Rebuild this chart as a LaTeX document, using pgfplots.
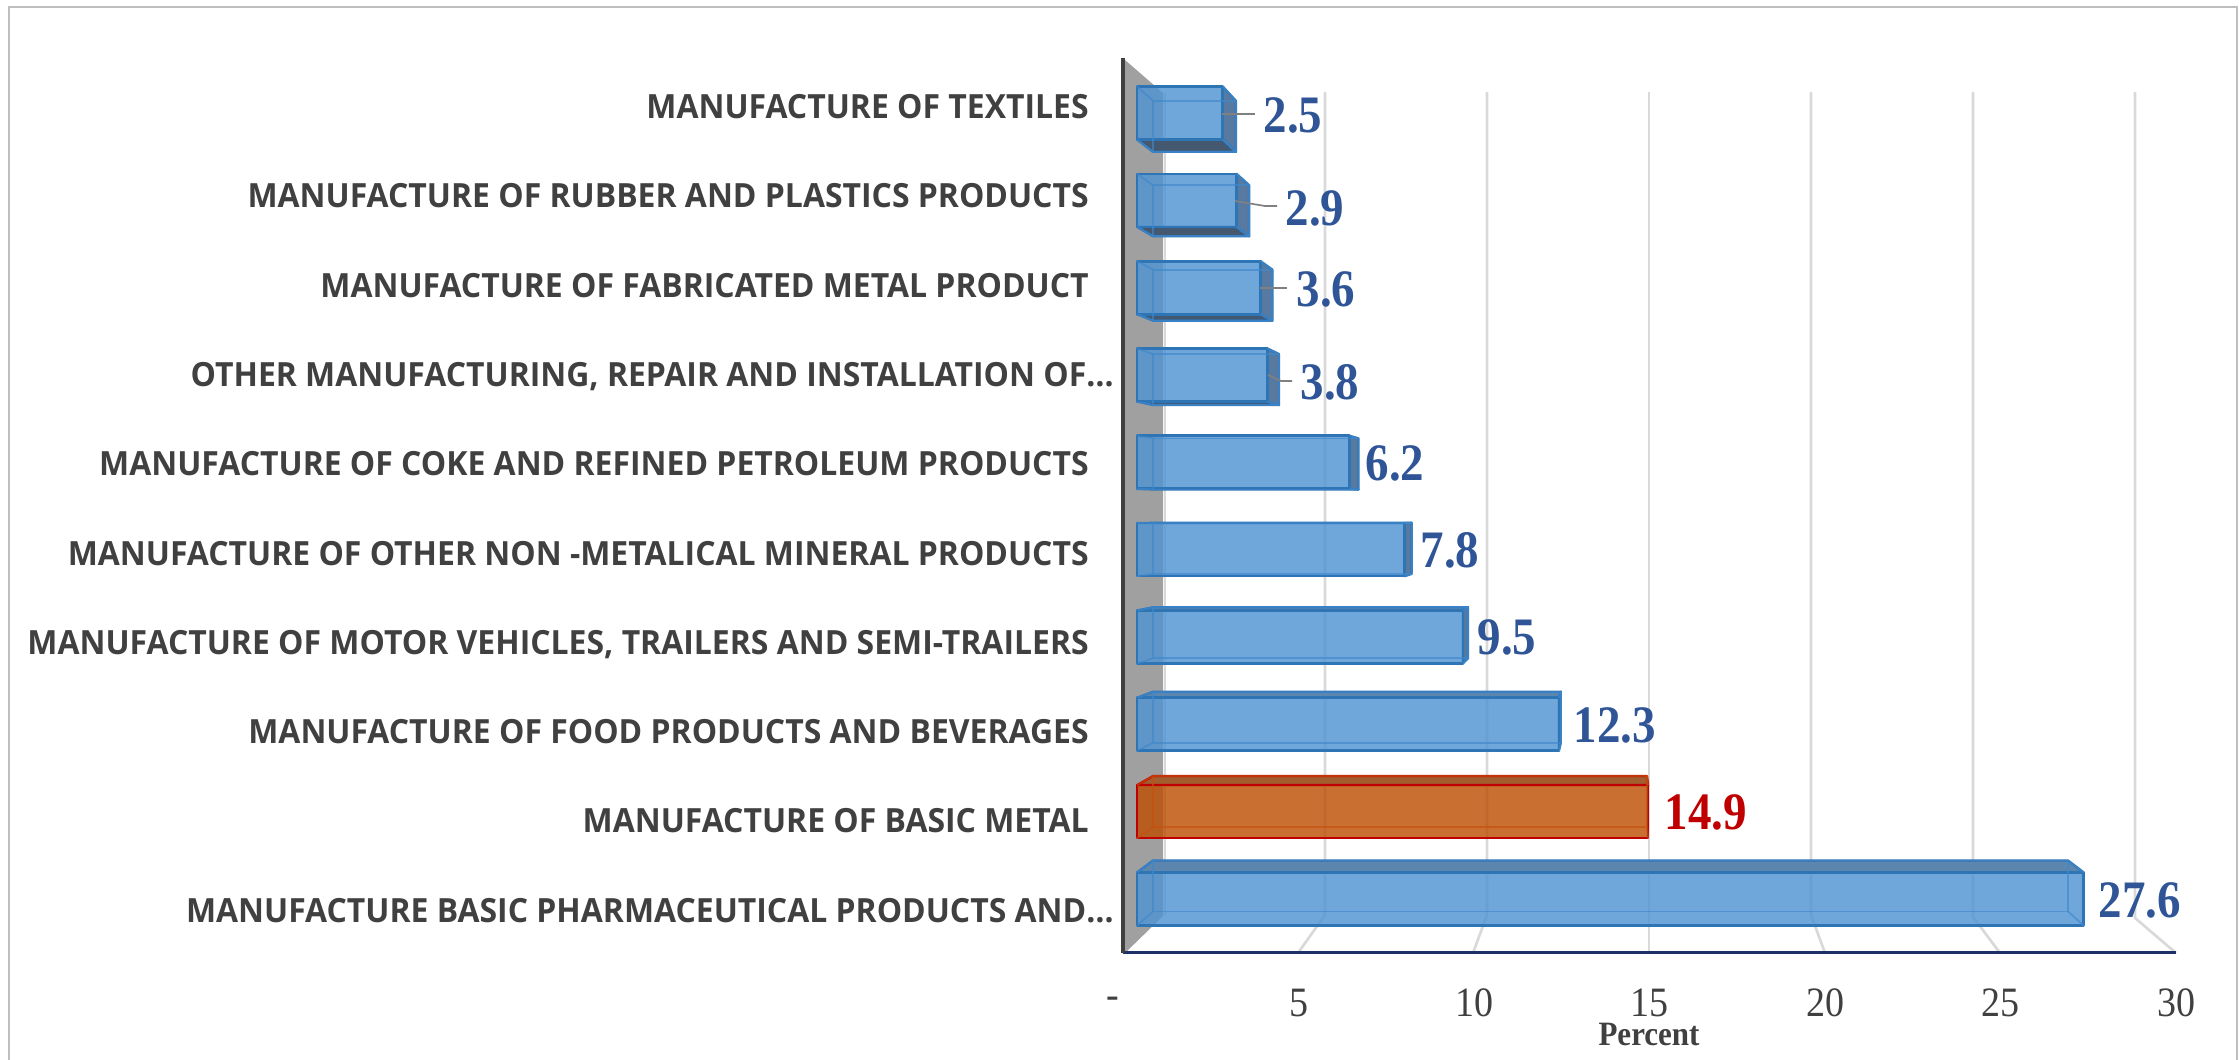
\documentclass[border=0pt]{standalone}
\usepackage{fontspec}
\usepackage{graphicx}
\usepackage{pgfplots}
\pgfplotsset{compat=1.18}
\setmainfont{Liberation Serif}
\newfontfamily\labfont{Open Sans}
\definecolor{ink}{HTML}{404040}
\definecolor{val}{HTML}{2F5597}
\definecolor{navy}{HTML}{1F3068}
\definecolor{gridc}{HTML}{D9D9D9}
\definecolor{wallc}{HTML}{A0A0A0}
\definecolor{fblue}{HTML}{5194D3}
\definecolor{eblue}{HTML}{2E75B6}
\definecolor{iblue}{HTML}{3F88CC}
\definecolor{topblue}{HTML}{5D86AE}
\definecolor{rightblue}{HTML}{587AA0}
\definecolor{botblue}{HTML}{44586F}
\definecolor{forange}{HTML}{BD4F05}
\definecolor{ered}{HTML}{C00000}
\definecolor{iorange}{HTML}{C5500F}
\definecolor{toporange}{HTML}{A35E2F}
\newcommand{\yl}[1]{\scalebox{0.958}[1]{\labfont\bfseries #1}\kern7.5pt\relax}
\newcommand{\ylz}[1]{\scalebox{0.958}[1]{\labfont\bfseries #1}}
\newcommand{\tl}[1]{\scalebox{1}[1.1]{#1}}
\newcommand{\dl}[1]{\scalebox{1}[1.12]{\bfseries #1}}
% #1 category position, #2 value, #3 fill, #4 edge, #5 inner edge, #6 top face, #7 bottom face, #8 right face
\newcommand{\threeD}[8]{%
  \pgfmathsetmacro\xb{0.4665+0.9665*#2}%
  \pgfmathsetmacro\ya{#1+0.3035}%
  \pgfmathsetmacro\yc{#1-0.3035}%
  \pgfmathsetmacro\yb{0.1489+0.9665*#1+0.292}%
  \pgfmathsetmacro\yd{0.1489+0.9665*#1-0.292}%
  \ifdim #1pt<4.4pt
    \edef\tmp{\noexpand\addplot[fill=#6,draw=#4,line width=0.7pt,line join=round,mark=none,forget plot] coordinates {(0,\ya)(#2,\ya)(\xb,\yb)(0.4665,\yb)} -- cycle;}\tmp
  \else
    \edef\tmp{\noexpand\addplot[fill=#7,draw=#4,line width=0.7pt,line join=round,mark=none,forget plot] coordinates {(0,\yc)(#2,\yc)(\xb,\yd)(0.4665,\yd)} -- cycle;}\tmp
  \fi
  \ifdim #2pt<13.9pt
    \edef\tmp{\noexpand\addplot[fill=#8,draw=#4,line width=0.7pt,line join=round,mark=none,forget plot] coordinates {(#2,\ya)(\xb,\yb)(\xb,\yd)(#2,\yc)} -- cycle;}\tmp
  \fi
  \addplot[xbar,fill=#3,fill opacity=0.82,draw=#4,line width=0.8pt,line join=round,forget plot] coordinates {(#2,#1)};
  \edef\tmp{\noexpand\addplot[draw=#5,draw opacity=0.65,line width=0.55pt,line join=round,mark=none,forget plot] coordinates {(0.4665,\yb)(\xb,\yb)(\xb,\yd)(0.4665,\yd)} -- cycle;}\tmp
  \edef\tmp{\noexpand\addplot[draw=#5,draw opacity=0.65,line width=0.55pt,mark=none,forget plot] coordinates {(0,\ya)(0.4665,\yb)};}\tmp
  \edef\tmp{\noexpand\addplot[draw=#5,draw opacity=0.65,line width=0.55pt,mark=none,forget plot] coordinates {(0,\yc)(0.4665,\yd)};}\tmp
  \edef\tmp{\noexpand\addplot[draw=#5,draw opacity=0.65,line width=0.55pt,mark=none,forget plot] coordinates {(#2,\ya)(\xb,\yb)};}\tmp
  \edef\tmp{\noexpand\addplot[draw=#5,draw opacity=0.65,line width=0.55pt,mark=none,forget plot] coordinates {(#2,\yc)(\xb,\yd)};}\tmp
}
\newcommand{\blueBar}[2]{\threeD{#1}{#2}{fblue}{eblue}{iblue}{topblue}{botblue}{rightblue}}
\pgfplotsset{pixelaxis/.style={at={(0pt,0pt)},anchor=south west,scale only axis,width=671.7pt,height=318pt,
  xmin=0,xmax=2239,ymin=0,ymax=1060,y dir=reverse,hide axis,clip=false}}
\begin{document}
\begin{tikzpicture}
\useasboundingbox (0,0) rectangle (671.7pt,318pt);
% frame, wall and grid, in picture pixels
\begin{axis}[pixelaxis]
\addplot[draw=black!25,line width=0.6pt,mark=none] coordinates {(9,1060)(9,7)(2237,7)(2237,1060)};
\addplot[fill=wallc,draw=none,mark=none] coordinates {(1125,60)(1163,93)(1163,916)(1125,953)} -- cycle;
\addplot[draw=gridc,line width=0.6pt,mark=none] coordinates {(1165,93)(1165,916)};
\addplot[draw=gridc,line width=0.8pt,mark=none] coordinates {(1325,92)(1325,915)(1298,953)};
\addplot[draw=gridc,line width=0.8pt,mark=none] coordinates {(1487,92)(1487,915)(1473,953)};
\addplot[draw=gridc,line width=0.8pt,mark=none] coordinates {(1649,92)(1649,916)(1649,953)};
\addplot[draw=gridc,line width=0.8pt,mark=none] coordinates {(1811,92)(1811,915)(1825,953)};
\addplot[draw=gridc,line width=0.8pt,mark=none] coordinates {(1973,92)(1973,917)(2000,953)};
\addplot[draw=gridc,line width=0.8pt,mark=none] coordinates {(2135,92)(2135,918)(2176,953)};
\end{axis}
% bars
\begin{axis}[at={(0pt,0pt)},anchor=south west,scale only axis,width=671.7pt,height=318pt,
  xmin=-33.1487,xmax=32.1283,ymin=-1.8436,ymax=10.2943,hide axis,clip=false,
  bar width=15.9pt,bar shift=0pt]
\blueBar{9}{2.5}
\blueBar{8}{2.9}
\blueBar{7}{3.6}
\blueBar{6}{3.8}
\blueBar{5}{6.2}
\blueBar{4}{7.8}
\blueBar{3}{9.5}
\blueBar{2}{12.3}
\threeD{1}{14.9}{forange}{ered}{iorange}{toporange}{toporange}{toporange}
\blueBar{0}{27.6}
\end{axis}
% axis lines and labels
\begin{axis}[at={(336.9pt,32.1pt)},anchor=south west,scale only axis,width=315.9pt,height=268.5pt,
  xmin=0,xmax=30,ymin=-0.4926,ymax=9.527,
  axis x line=bottom,axis y line=left,axis line style={-},
  x axis line style={draw=navy,line width=0.9pt},
  y axis line style={draw=ink,line width=1.2pt},
  major tick length=0pt,
  xtick={0,5,10,15,20,25,30},
  xticklabels={\tl{-\hspace{6pt}},\tl{5},\tl{10},\tl{15},\tl{20},\tl{25},\tl{30}},
  xticklabel style={font=\fontsize{11.4pt}{12pt}\selectfont,text=ink,inner sep=0pt,anchor=center,yshift=-15pt},
  ytick={0,1,2,3,4,5,6,7,8,9},
  yticklabels={
    {\ylz{MANUFACTURE BASIC PHARMACEUTICAL PRODUCTS AND…}},
    {\yl{MANUFACTURE OF BASIC METAL}},
    {\yl{MANUFACTURE OF FOOD PRODUCTS AND BEVERAGES}},
    {\yl{MANUFACTURE OF MOTOR VEHICLES, TRAILERS AND SEMI-TRAILERS}},
    {\yl{MANUFACTURE OF OTHER NON -METALICAL MINERAL PRODUCTS}},
    {\yl{MANUFACTURE OF COKE AND REFINED PETROLEUM PRODUCTS}},
    {\ylz{OTHER MANUFACTURING, REPAIR AND INSTALLATION OF…}},
    {\yl{MANUFACTURE OF FABRICATED METAL PRODUCT}},
    {\yl{MANUFACTURE OF RUBBER AND PLASTICS PRODUCTS}},
    {\yl{MANUFACTURE OF TEXTILES}}},
  yticklabel style={font=\fontsize{10pt}{12pt}\selectfont,text=ink,inner sep=0pt,anchor=base east,xshift=-2.6pt,yshift=-4pt},
  clip=false]
\end{axis}
% value labels, leader lines and title of the value axis, in picture pixels
\begin{axis}[pixelaxis]
\addplot[draw=black!50,line width=0.5pt,mark=none] coordinates {(1222,114)(1255,114)};
\addplot[draw=black!50,line width=0.5pt,mark=none] coordinates {(1235,201)(1265,206)(1277,206)};
\addplot[draw=black!50,line width=0.5pt,mark=none] coordinates {(1260,288)(1287,288)};
\addplot[draw=black!50,line width=0.5pt,mark=none] coordinates {(1268,375)(1281,381)(1292,381)};
\tikzset{vl/.style={anchor=west,inner sep=0pt,font=\fontsize{14.1pt}{15pt}\selectfont,text=val}}
\node[vl] at (axis cs:1263,115) {\dl{2.5}};
\node[vl] at (axis cs:1285,208) {\dl{2.9}};
\node[vl] at (axis cs:1296,289) {\dl{3.6}};
\node[vl] at (axis cs:1300,382) {\dl{3.8}};
\node[vl] at (axis cs:1365,463) {\dl{6.2}};
\node[vl] at (axis cs:1420,550) {\dl{7.8}};
\node[vl] at (axis cs:1477,637) {\dl{9.5}};
\node[vl] at (axis cs:1573,725) {\dl{12.3}};
\node[vl,text=ered] at (axis cs:1664,812) {\dl{14.9}};
\node[vl] at (axis cs:2098,900) {\dl{27.6}};
\node[anchor=center,inner sep=0pt,font=\fontsize{9.3pt}{10pt}\selectfont,text=ink] at (axis cs:1649,1034) {\scalebox{1}[1.1]{\bfseries Percent}};
\end{axis}
\end{tikzpicture}
\end{document}
